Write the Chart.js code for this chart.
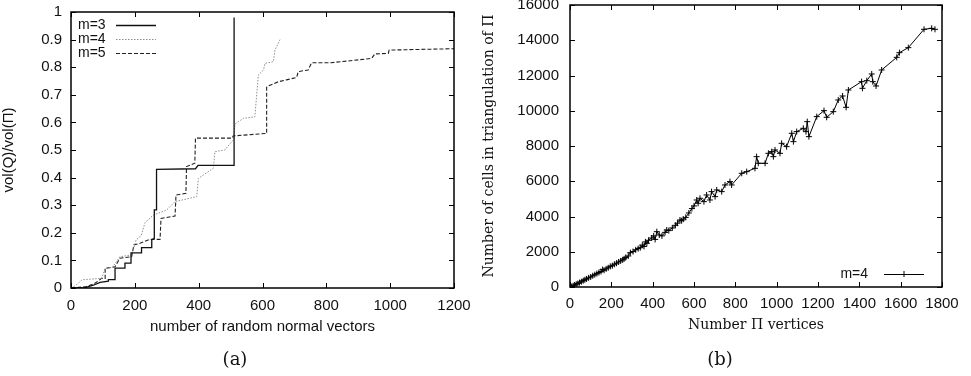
<!DOCTYPE html>
<html>
<head>
<meta charset="utf-8">
<script src="https://cdn.jsdelivr.net/npm/chart.js@4.4.1/dist/chart.umd.min.js"></script>
<style>
  html, body { margin: 0; padding: 0; background: #fff; }
  #wrap { position: relative; width: 971px; height: 376px; overflow: hidden; }
  #wrap canvas { position: absolute; top: 0; }
  #cA { left: 0; }
  #cB { left: 481px; }
  .cap { position: absolute; top: 348px; transform: translateX(-50%); font-family: "DejaVu Serif", serif; font-size: 18px; color: #111; }
</style>
</head>
<body>
<div id="wrap">
  <canvas id="cA" width="481" height="376"></canvas>
  <canvas id="cB" width="490" height="376"></canvas>
  <div class="cap" style="left:235px">(a)</div>
  <div class="cap" style="left:720px">(b)</div>
</div>
<script>
// (a) vol(Q)/vol(Pi) vs number of random normal vectors
const m3X = [0, 40, 70, 91, 117, 117, 138, 138, 169, 169, 188, 188, 221, 221, 253, 253, 261, 261, 268, 268, 390, 398, 511, 511];
const m3Y = [0, 0, 0.01, 0.02, 0.025, 0.03, 0.03, 0.072, 0.072, 0.09, 0.09, 0.127, 0.127, 0.146, 0.146, 0.174, 0.18, 0.283, 0.283, 0.43, 0.432, 0.444, 0.444, 0.98];

const m4X = [0, 15, 35, 96, 107, 130, 153, 190, 204, 220, 232, 258, 300, 326, 394, 399, 446, 451, 482, 508, 514, 540, 576, 587, 603, 608, 634, 639, 655];
const m4Y = [0, 0.01, 0.03, 0.035, 0.071, 0.075, 0.113, 0.12, 0.174, 0.19, 0.237, 0.264, 0.283, 0.313, 0.331, 0.397, 0.434, 0.494, 0.5, 0.536, 0.594, 0.615, 0.62, 0.772, 0.79, 0.814, 0.82, 0.862, 0.9];

const m5X = [0, 50, 75, 96, 107, 107, 138, 153, 190, 197, 216, 247, 279, 282, 326, 329, 360, 362, 388, 390, 505, 508, 613, 613, 618, 649, 675, 707, 712, 743, 754, 811, 864, 942, 952, 994, 997, 1200];
const m5Y = [0, 0.005, 0.017, 0.035, 0.035, 0.071, 0.077, 0.108, 0.113, 0.156, 0.162, 0.176, 0.176, 0.252, 0.261, 0.337, 0.343, 0.44, 0.452, 0.543, 0.543, 0.551, 0.56, 0.727, 0.732, 0.747, 0.754, 0.763, 0.784, 0.79, 0.816, 0.816, 0.822, 0.832, 0.848, 0.85, 0.862, 0.867];

// (b) cells in triangulation vs number of Pi vertices (m=4)
const nX = [0, 8, 15, 22, 30, 38, 46, 55, 64, 72, 80, 90, 100, 110, 120, 130, 140, 150, 158, 165, 175, 185, 195, 205, 215, 225, 235, 245, 255, 262, 270, 282, 292, 305, 318, 330, 340, 350, 358, 365, 372, 380, 395, 405, 412, 420, 432, 445, 460, 468, 478, 495, 510, 520, 532, 540, 548, 560, 575, 590, 600, 613, 620, 629, 648, 661, 677, 685, 702, 710, 734, 750, 774, 782, 831, 855, 895, 903, 911, 944, 960, 976, 984, 992, 1016, 1024, 1048, 1073, 1081, 1097, 1129, 1142, 1148, 1156, 1194, 1229, 1242, 1274, 1298, 1319, 1336, 1347, 1411, 1415, 1436, 1460, 1465, 1481, 1508, 1581, 1594, 1637, 1713, 1750, 1766];
const nY = [0, 30, 70, 110, 160, 200, 250, 300, 360, 410, 460, 520, 570, 640, 700, 760, 820, 880, 990, 950, 1030, 1090, 1170, 1210, 1290, 1350, 1420, 1480, 1540, 1600, 1680, 1760, 1950, 2010, 2110, 2180, 2230, 2380, 2300, 2560, 2480, 2650, 2780, 2900, 2700, 3140, 2950, 2900, 3100, 3235, 3200, 3350, 3500, 3620, 3802, 3760, 3850, 3950, 4200, 4450, 4600, 4937, 4750, 5033, 4843, 5222, 4937, 5411, 5127, 5506, 5411, 5789, 5979, 5789, 6451, 6545, 6734, 7396, 7018, 7018, 7585, 7680, 7396, 7774, 7585, 8153, 7964, 8720, 8247, 8815, 9004, 8815, 9382, 8531, 9666, 10006, 9628, 9949, 10611, 10838, 10195, 11178, 11651, 11273, 11708, 12086, 11651, 11405, 12313, 13031, 13296, 13580, 14620, 14677, 14620];

const pts = (xs, ys) => xs.map((x, i) => ({ x: x, y: ys[i] }));

Chart.defaults.font.family = '"Liberation Sans", Arial, sans-serif';
Chart.defaults.font.size = 15;
Chart.defaults.color = '#111';

// gnuplot-like frame with inward ticks on all four sides
const frame = {
  id: 'frame',
  afterDraw(chart) {
    const { ctx, chartArea: a, scales: { x, y } } = chart;
    ctx.save();
    ctx.strokeStyle = '#000';
    ctx.lineWidth = 1;
    ctx.beginPath();
    x.ticks.forEach(t => {
      const p = Math.round(x.getPixelForValue(t.value)) + 0.5;
      ctx.moveTo(p, a.bottom); ctx.lineTo(p, a.bottom - 5);
      ctx.moveTo(p, a.top); ctx.lineTo(p, a.top + 5);
    });
    y.ticks.forEach(t => {
      const p = Math.round(y.getPixelForValue(t.value)) + 0.5;
      ctx.moveTo(a.left, p); ctx.lineTo(a.left + 5, p);
      ctx.moveTo(a.right, p); ctx.lineTo(a.right - 5, p);
    });
    ctx.stroke();
    ctx.lineWidth = 1.5;
    ctx.strokeRect(a.left, a.top, a.right - a.left, a.bottom - a.top);
    ctx.restore();
  }
};

// key drawn inside the plot, gnuplot style (text then line sample)
const key = {
  id: 'key',
  afterDraw(chart, args, o) {
    const ctx = chart.ctx;
    ctx.save();
    ctx.font = o.font;
    ctx.fillStyle = '#111';
    ctx.textBaseline = 'middle';
    ctx.textAlign = o.align;
    chart.data.datasets.forEach((ds, i) => {
      const y = o.y + i * o.dy;
      ctx.fillText(ds.label, o.textX, y);
      ctx.strokeStyle = ds.borderColor;
      ctx.lineWidth = ds.borderWidth;
      ctx.setLineDash(ds.borderDash || []);
      ctx.beginPath();
      ctx.moveTo(o.x1, y + 0.5); ctx.lineTo(o.x2, y + 0.5);
      ctx.stroke();
      if (ds.pointRadius) {
        const mx = (o.x1 + o.x2) / 2, r = ds.pointRadius;
        ctx.setLineDash([]);
        ctx.beginPath();
        ctx.moveTo(mx, y - r); ctx.lineTo(mx, y + r);
        ctx.stroke();
      }
    });
    ctx.restore();
  }
};

function fixW(w) { return s => { s.width = w; s.paddingTop = 0; s.paddingBottom = 0; }; }
function fixH(h) { return s => { s.height = h; s.paddingLeft = 0; s.paddingRight = 0; }; }
const plain = v => String(v);
const noGrid = { display: false, drawTicks: false };

new Chart(document.getElementById('cA'), {
  type: 'line',
  data: {
    datasets: [
      { label: 'm=3', data: pts(m3X, m3Y), borderColor: '#111', borderWidth: 1.3 },
      { label: 'm=4', data: pts(m4X, m4Y), borderColor: '#8c8c8c', borderWidth: 1, borderDash: [1.5, 1.5] },
      { label: 'm=5', data: pts(m5X, m5Y), borderColor: '#222', borderWidth: 1.1, borderDash: [4, 2] }
    ]
  },
  options: {
    responsive: false, animation: false,
    layout: { padding: { top: 12, left: 0, right: 27, bottom: 40 } },
    elements: { point: { radius: 0 }, line: { tension: 0 } },
    plugins: {
      legend: { display: false }, tooltip: { enabled: false },
      key: { font: '14px "Liberation Sans", sans-serif', align: 'left', textX: 78, x1: 116, x2: 156, y: 25, dy: 14 }
    },
    scales: {
      x: {
        type: 'linear', min: 0, max: 1200,
        grid: noGrid, border: { display: false },
        ticks: { stepSize: 200, padding: 9, maxRotation: 0, autoSkip: false, callback: plain },
        title: { display: true, text: 'number of random normal vectors', padding: 0 },
        afterFit: fixH(48)
      },
      y: {
        min: 0, max: 1,
        grid: noGrid, border: { display: false },
        ticks: { stepSize: 0.1, padding: 9, callback: v => String(+v.toFixed(1)) },
        title: { display: true, text: 'vol(Q)/vol(\u03A0)', padding: 0 },
        afterFit: fixW(71)
      }
    }
  },
  plugins: [frame, key]
});

const serif = { family: '"DejaVu Serif", serif', size: 14 };

new Chart(document.getElementById('cB'), {
  type: 'line',
  data: {
    datasets: [
      { label: 'm=4', data: pts(nX, nY), borderColor: '#000', borderWidth: 1,
        pointStyle: 'cross', pointRadius: 3, pointBorderWidth: 1, pointBorderColor: '#000' }
    ]
  },
  options: {
    responsive: false, animation: false,
    layout: { padding: { top: 5, left: 0, right: 29, bottom: 42 } },
    elements: { line: { tension: 0 } },
    plugins: {
      legend: { display: false }, tooltip: { enabled: false },
      key: { font: '14px "Liberation Sans", sans-serif', align: 'right', textX: 387, x1: 403, x2: 443, y: 274, dy: 14 }
    },
    scales: {
      x: {
        type: 'linear', min: 0, max: 1800,
        grid: noGrid, border: { display: false },
        ticks: { stepSize: 200, padding: 8, maxRotation: 0, autoSkip: false, callback: plain },
        title: { display: true, text: 'Number \u03A0 vertices', font: serif, padding: 0 },
        afterFit: fixH(47)
      },
      y: {
        min: 0, max: 16000,
        grid: noGrid, border: { display: false },
        ticks: { stepSize: 2000, padding: 11, callback: plain },
        title: { display: true, text: 'Number of cells in triangulation of \u03A0', font: serif, padding: 0 },
        afterFit: fixW(89)
      }
    }
  },
  plugins: [frame, key]
});
</script>
</body>
</html>
